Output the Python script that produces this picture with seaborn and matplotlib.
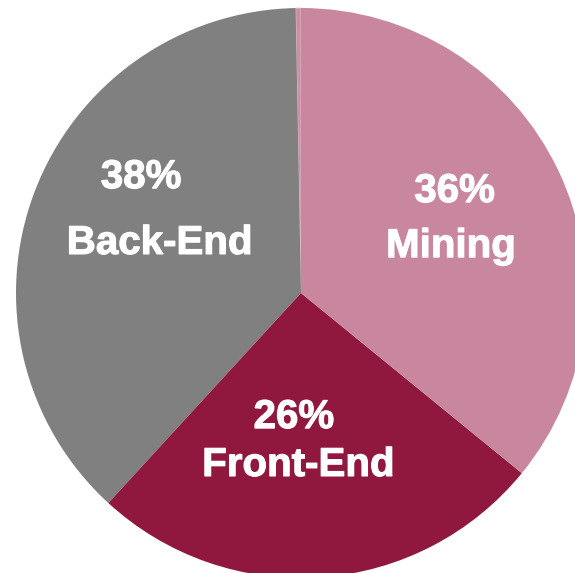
import matplotlib
matplotlib.use("Agg")
import matplotlib.pyplot as plt
import matplotlib.patheffects as pe
import seaborn as sns

# Share of work by area (percent); a tiny "Other" slice sits at the top
categories = ["Other", "Back-End", "Front-End", "Mining"]
shares = [0.3, 38, 26, 36]
colors = ["#cd8ea6", "#808080", "#90183e", "#c8879f"]

sns.set_theme(style="white")
plt.rcParams["font.family"] = ["Liberation Sans", "DejaVu Sans"]

W, H = 575, 573
fig = plt.figure(figsize=(W / 100, H / 100), dpi=100)

cx, cy, r = 301, 293, 285  # pie centre and radius in pixels
ax = fig.add_axes([(cx - r) / W, (H - cy - r) / H, 2 * r / W, 2 * r / H])

wedges, _ = ax.pie(shares, colors=colors, startangle=90, counterclock=True,
                   wedgeprops=dict(linewidth=0))
# thin light seam between the tiny slice and Mining
wedges[0].set_edgecolor("#e6c3d0")
wedges[0].set_linewidth(0.6)

ax.set_xlim(-1, 1)
ax.set_ylim(-1, 1)
ax.set_aspect("equal")
ax.axis("off")

total = sum(shares)
heavy = [pe.withStroke(linewidth=0.8, foreground="white")]
# label anchors (pct line, name line) in pie units
label_pos = {
    "Back-End": ((-0.561, 0.368), (-0.496, 0.137)),
    "Mining": ((0.539, 0.319), (0.526, 0.126)),
    "Front-End": ((-0.025, -0.474), (-0.009, -0.642)),
}
for name, val in zip(categories, shares):
    if name not in label_pos:
        continue
    (px, py), (nx, ny) = label_pos[name]
    ax.text(px, py, f"{round(val / total * 100):d}%", ha="center", va="baseline",
            color="white", fontsize=29, fontweight="bold", path_effects=heavy)
    ax.text(nx, ny, name, ha="center", va="baseline",
            color="white", fontsize=29, fontweight="bold", path_effects=heavy)

fig.savefig("out.png", dpi=100, facecolor="white")
